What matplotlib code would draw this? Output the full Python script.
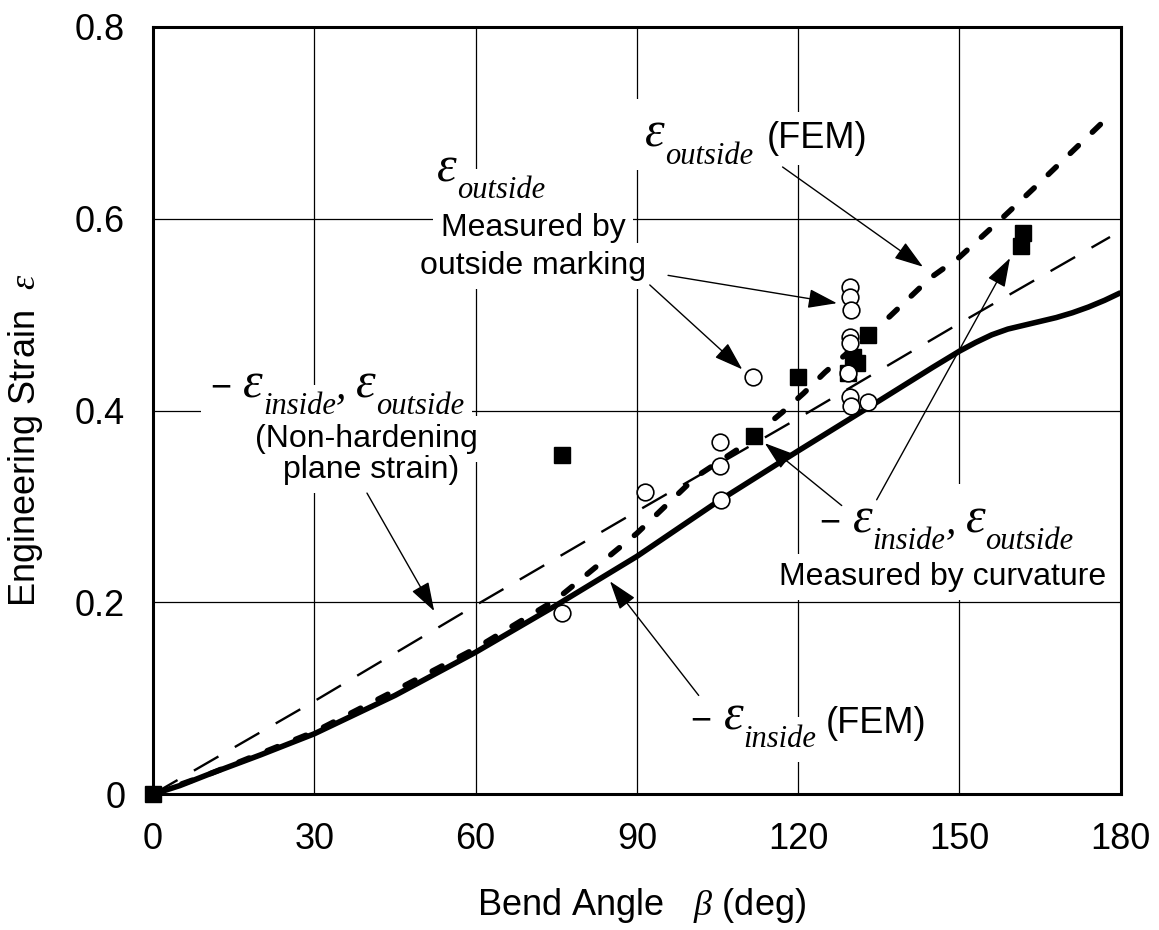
import matplotlib
matplotlib.use("Agg")
import matplotlib.pyplot as plt
from matplotlib.transforms import IdentityTransform

plt.rcParams["font.family"] = ["Liberation Sans", "DejaVu Sans"]
plt.rcParams["mathtext.fontset"] = "custom"
plt.rcParams["mathtext.rm"] = "Liberation Sans"
plt.rcParams["mathtext.it"] = "Liberation Serif:italic"
plt.rcParams["mathtext.bf"] = "Liberation Sans:bold"

# -eps_inside (FEM), solid
fem_inside_x = [0, 5, 10, 20, 30, 45, 60, 75, 90, 105, 120, 135, 145, 150, 153, 156, 159, 162,
                165, 168, 171, 174, 177, 180]
fem_inside_y = [0, 0.009, 0.02, 0.041, 0.063, 0.103, 0.148, 0.197, 0.248, 0.305, 0.358, 0.41,
                0.445, 0.462, 0.471, 0.479, 0.485, 0.489, 0.493, 0.497, 0.502, 0.508, 0.515, 0.523]

# eps_outside (FEM), heavy dotted
fem_outside_x = [0, 10, 30, 45, 60, 75, 90, 101, 108.6, 117, 121, 125, 137, 144.5, 150, 158, 165, 178]
fem_outside_y = [0, 0.02, 0.065, 0.108, 0.152, 0.203, 0.272, 0.331, 0.359, 0.398, 0.418, 0.44, 0.498,
                 0.538, 0.56, 0.601, 0.638, 0.708]

# non-hardening plane strain, thin dashed
plane_x = [0, 30, 60, 90, 120, 150, 178]
plane_y = [0, 0.097, 0.197, 0.295, 0.392, 0.491, 0.581]

# measured by outside marking (open circles)
marking_x = [76, 91.5, 105.5, 105.5, 105.6, 111.6, 129.6, 129.7, 129.8, 129.6, 129.7, 129.3,
             129.6, 129.9, 133]
marking_y = [0.189, 0.315, 0.367, 0.342, 0.307, 0.435, 0.529, 0.518, 0.505, 0.477, 0.47, 0.439,
             0.414, 0.405, 0.409]

# measured by curvature (filled squares)
curv_x = [0, 76, 111.7, 120, 129.2, 130.2, 131, 133, 161.5, 161.8]
curv_y = [0, 0.354, 0.374, 0.435, 0.439, 0.456, 0.45, 0.479, 0.572, 0.585]

fig = plt.figure(figsize=(11.59, 9.30), dpi=100)
ax = fig.add_axes([0.132, 0.146, 0.835, 0.825])

ax.plot(plane_x, plane_y, color="black", lw=1.7, dashes=(12, 8), zorder=2)
ax.plot(fem_inside_x, fem_inside_y, color="black", lw=4, solid_capstyle="butt",
        solid_joinstyle="round", zorder=2.2)
ax.plot(fem_outside_x, fem_outside_y, color="black", lw=4, dashes=(2, 3.5),
        dash_capstyle="round", zorder=2.3)
ax.plot(curv_x, curv_y, "s", ms=12, color="black", clip_on=False, zorder=4)
ax.plot(marking_x, marking_y, "o", ms=12, mfc="white", mec="black", mew=1.2, zorder=5)

ax.set_xlim(0, 180)
ax.set_ylim(0, 0.8)
ax.set_xticks([0, 30, 60, 90, 120, 150, 180])
ax.set_yticks([0, 0.2, 0.4, 0.6, 0.8])
ax.set_yticklabels(["0", "0.2", "0.4", "0.6", "0.8"])
ax.set_axisbelow(True)
ax.grid(True, color="black", lw=0.9)
ax.tick_params(length=0, labelsize=26)
ax.tick_params(axis="x", pad=20)
ax.tick_params(axis="y", pad=20)
for sp in ax.spines.values():
    sp.set_linewidth(2.2)

fig.text(642 / 1159, 1 - 905 / 930, r"Bend Angle   $\beta$ (deg)", fontsize=26,
         ha="center", va="center")
fig.text(26 / 1159, 1 - 440 / 930, r"Engineering Strain  $\varepsilon$", fontsize=26,
         ha="center", va="center", rotation=90)

box = dict(boxstyle="square,pad=0.25", fc="white", ec="none")
renderer = fig.canvas.get_renderer()
SANS, SERIF = "Liberation Sans", "Liberation Serif"


def label(x, y, s, size=23, ha="left"):
    ax.text(x, y, s, fontsize=size, ha=ha, va="baseline", bbox=box, zorder=1)


def rich(x, y, parts):
    # parts: (text, size, drop_px, family, style); a number alone is a gap in px
    px, py = ax.transData.transform((x, y))
    for part in parts:
        if not isinstance(part, tuple):
            px += part
            continue
        s, size, drop, family, style = part
        kw = dict(fontsize=size, family=family, style=style, ha="left", va="baseline",
                  transform=IdentityTransform())
        ax.text(px, py - drop, s, color="none", bbox=box, zorder=1, **kw)
        t = ax.text(px, py - drop, s, color="black", zorder=1.1, **kw)
        px += t.get_window_extent(renderer).width


def arrow(start, tip):
    ax.annotate("", xy=tip, xytext=start, zorder=4,
                arrowprops=dict(arrowstyle="-|>,head_length=0.9,head_width=0.3", color="black",
                                lw=1.0, mutation_scale=20, shrinkA=0, shrinkB=0))


EPS = ("\u03b5", 36, 0, SERIF, "italic")
MINUS = ("\u2212", 26, 0, SANS, "normal")
SUB_IN = ("inside", 22, 17, SERIF, "italic")
SUB_OUT = ("outside", 22, 17, SERIF, "italic")
COMMA = (",", 30, 0, SERIF, "italic")
eps_out = [EPS, SUB_OUT]
eps_both = [MINUS, 12, EPS, SUB_IN, COMMA, 10, EPS, SUB_OUT]

# eps_outside (FEM)
rich(91.5, 0.675, eps_out)
label(114.2, 0.674, "(FEM)", size=26)
arrow((117.1, 0.654), (143.2, 0.550))

# measured by outside marking
rich(52.8, 0.639, eps_out)
label(70.7, 0.582, "Measured by", ha="center")
label(70.7, 0.542, "outside marking", ha="center")
arrow((95.8, 0.541), (127.2, 0.512))
arrow((92.4, 0.531), (109.6, 0.443))

# non-hardening plane strain
rich(10.6, 0.414, eps_both)
label(39.6, 0.362, "(Non-hardening", ha="center")
label(40.5, 0.330, "plane strain)", ha="center")
arrow((39.8, 0.314), (52.3, 0.191))

# measured by curvature
rich(124, 0.273, eps_both)
label(146.8, 0.218, "Measured by curvature", ha="center")
arrow((128.1, 0.301), (113.8, 0.366))
arrow((134.6, 0.307), (159.4, 0.559))

# -eps_inside (FEM)
rich(100, 0.067, [MINUS, 12, EPS, SUB_IN])
label(125.2, 0.064, "(FEM)", size=26)
arrow((101.5, 0.103), (85, 0.222))

fig.savefig("out.png", dpi=100)
